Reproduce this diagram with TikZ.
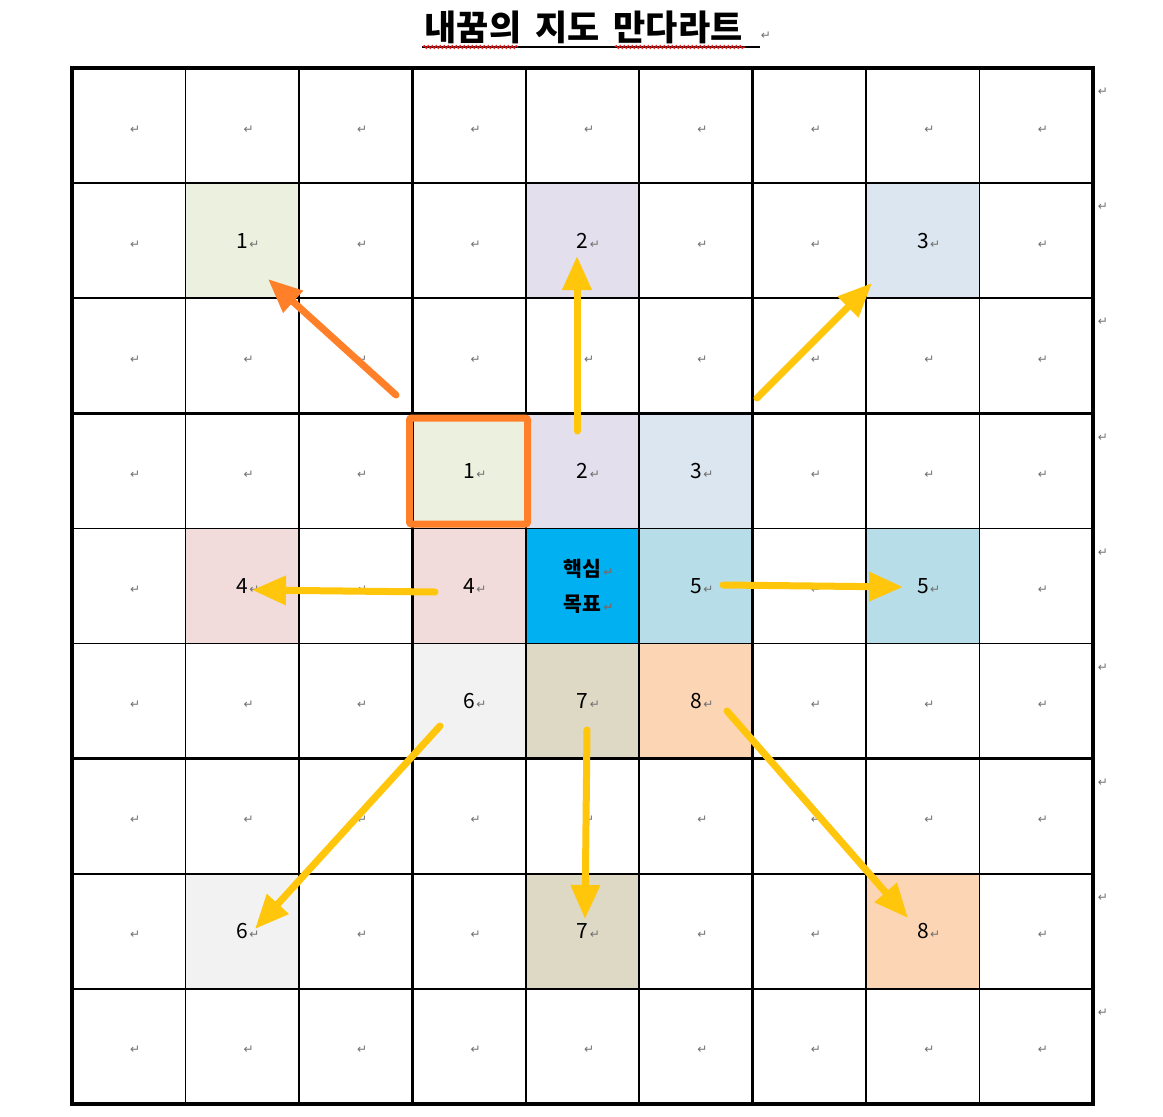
\documentclass[tikz,border=0pt]{standalone}
\usepackage{fontspec}
\setmainfont{Noto Sans CJK KR}
\newfontfamily\symfont{DejaVu Sans}
\usetikzlibrary{arrows.meta,decorations.pathmorphing}
\definecolor{cgreen}{HTML}{EBF1DE}
\definecolor{cpurple}{HTML}{E4DFEC}
\definecolor{cblue}{HTML}{DCE6F1}
\definecolor{cpink}{HTML}{F2DCDB}
\definecolor{ccore}{HTML}{00B0F0}
\definecolor{ccyan}{HTML}{B7DEE8}
\definecolor{cgray}{HTML}{F2F2F2}
\definecolor{ctan}{HTML}{DDD9C4}
\definecolor{cpeach}{HTML}{FCD5B4}
\definecolor{corange}{HTML}{FF8029}
\definecolor{cyellow}{HTML}{FFC60B}
\definecolor{markgray}{HTML}{707070}
\definecolor{wavyred}{HTML}{E81010}
\newcommand\retmark{{\color{markgray}\symfont\fontsize{12}{12}\selectfont ↵}}
\newcommand\cellt[1]{\vphantom{0}#1\rlap{\hspace{1.5pt}\retmark}}
\newcommand\cx[1]{72+113.444*(#1+0.5)}
\newcommand\cy[1]{68+115.111*(#1+0.5)}
\begin{document}
\begin{tikzpicture}[x=1pt,y=-1pt,
  cell/.style={minimum width=113.444pt, minimum height=115.111pt, inner sep=0pt, outer sep=0pt,
    font=\fontsize{21}{21}\selectfont},
  thinline/.style={line width=1.5pt, black},
  thickline/.style={line width=3.5pt, black, line cap=rect},
  arr/.style={line width=7pt, line cap=round, -{Triangle[length=34pt,width=28pt]}},
  wavy/.style={wavyred, line width=1.2pt, decorate, decoration={snake, segment length=4pt, amplitude=1.3pt}},
  marknode/.style={inner sep=0pt, outer sep=0pt}]
\fill[white] (0,0) rectangle (1163,1117);
\useasboundingbox (0,0) rectangle (1163,1117);

% title
\node[inner sep=0pt, font=\fontsize{35}{35}\selectfont\bfseries] (title) at (583.5,27.5) {내꿈의\hspace{14pt}지도\hspace{14pt}만다라트};
\node[marknode] (tmark) at (766,36) {\retmark};
\draw[line width=2pt] (422,46.5) -- (760,46.5);
\draw[wavy] (423,47) -- (518,47);
\draw[wavy] (615,47) -- (745,47);

% special cells
\newcommand\spcell[4]{%
  \expandafter\def\csname sp#1-#2\endcsname{}%
  \node[cell, fill=#4] (c#1#2) at ({\cx{#2}},{\cy{#1}}) {\cellt{#3}};}
\spcell{1}{1}{1}{cgreen}
\spcell{1}{4}{2}{cpurple}
\spcell{1}{7}{3}{cblue}
\spcell{3}{3}{1}{cgreen}
\spcell{3}{4}{2}{cpurple}
\spcell{3}{5}{3}{cblue}
\spcell{4}{1}{4}{cpink}
\spcell{4}{3}{4}{cpink}
\spcell{4}{5}{5}{ccyan}
\spcell{4}{7}{5}{ccyan}
\spcell{5}{3}{6}{cgray}
\spcell{5}{4}{7}{ctan}
\spcell{5}{5}{8}{cpeach}
\spcell{7}{1}{6}{cgray}
\spcell{7}{4}{7}{ctan}
\spcell{7}{7}{8}{cpeach}
\expandafter\def\csname sp4-4\endcsname{}
\node[cell, fill=ccore, align=center, font=\fontsize{20.5}{35}\selectfont\bfseries] (c44) at ({\cx{4}},{\cy{4}})
  {핵심\rlap{\hspace{2pt}\retmark}\\목표\rlap{\hspace{2pt}\retmark}};

% empty cells
\foreach \r in {0,...,8}{\foreach \c in {0,...,8}{%
  \ifcsname sp\r-\c\endcsname\else
  \node[cell] (c\r\c) at ({\cx{\c}},{\cy{\r}}) {\cellt{}};
  \fi}}

% right margin marks
\foreach \r in {0,...,8}{\node[marknode] (m\r) at (1103,{68+115.111*\r+24}) {\retmark};}

% grid
\foreach \i in {1,2,4,5,7,8}{
  \draw[thinline] ({72+113.444*\i},68) -- ({72+113.444*\i},1104);
  \draw[thinline] (72,{68+115.111*\i}) -- (1093,{68+115.111*\i});}
\foreach \i in {0,3,6,9}{
  \draw[thickline] ({72+113.444*\i},68) -- ({72+113.444*\i},1104);
  \draw[thickline] (72,{68+115.111*\i}) -- (1093,{68+115.111*\i});}

% selection box
\node[draw=corange, line width=7pt, rounded corners=2pt, minimum width=118pt, minimum height=106pt, inner sep=0pt] (sel) at (468.5,471) {};

% arrow end points
\coordinate (a1s) at (396,395);
\coordinate (a1e) at (268,279);
\coordinate (a2s) at (577,431);
\coordinate (a2e) at (577,256);
\coordinate (a3s) at (757,398);
\coordinate (a3e) at (872,283);
\coordinate (a4s) at (435,592);
\coordinate (a4e) at (252,590);
\coordinate (a5s) at (723,585);
\coordinate (a5e) at (903,587);
\coordinate (a6s) at (440,726);
\coordinate (a6e) at (255,929);
\coordinate (a7s) at (587,730);
\coordinate (a7e) at (585,919);
\coordinate (a8s) at (727,711);
\coordinate (a8e) at (908,918);

\draw[arr, corange] (a1s) -- (a1e);
\draw[arr, cyellow] (a2s) -- (a2e);
\draw[arr, cyellow] (a3s) -- (a3e);
\draw[arr, cyellow] (a4s) -- (a4e);
\draw[arr, cyellow] (a5s) -- (a5e);
\draw[arr, cyellow] (a6s) -- (a6e);
\draw[arr, cyellow] (a7s) -- (a7e);
\draw[arr, cyellow] (a8s) -- (a8e);
\end{tikzpicture}
\end{document}
